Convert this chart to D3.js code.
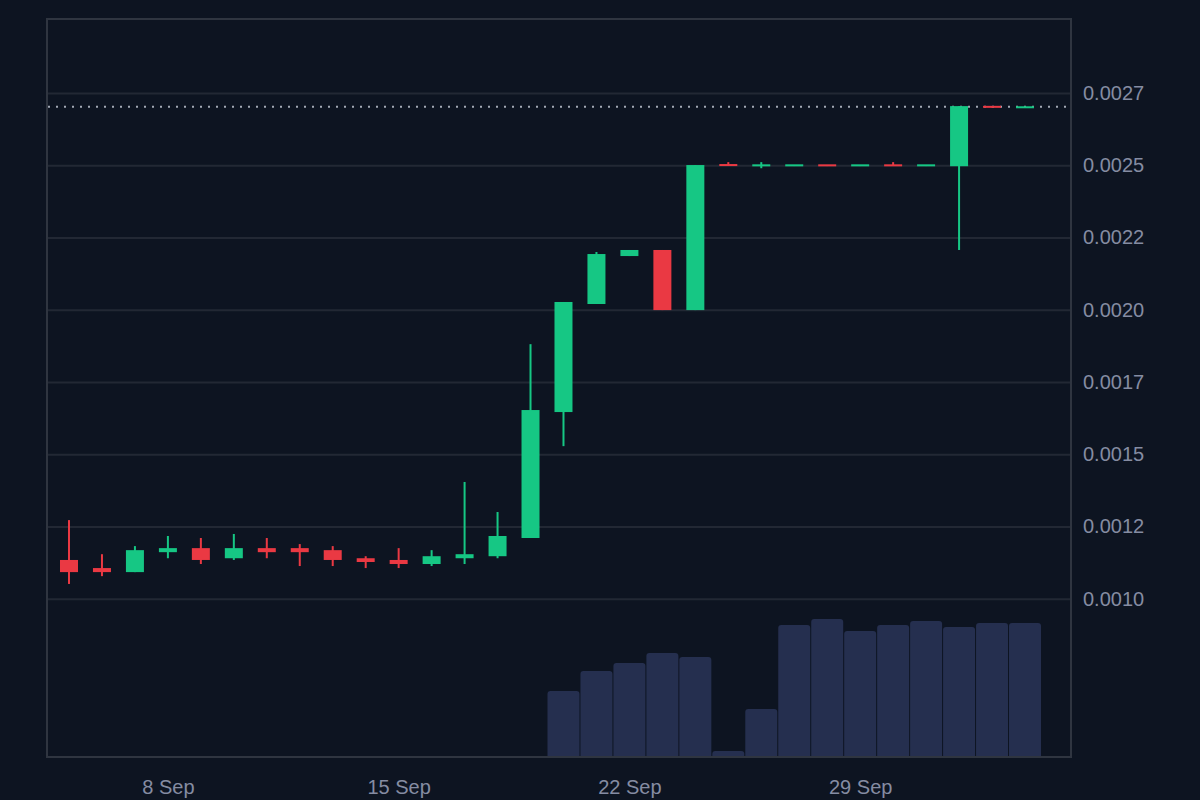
<!DOCTYPE html>
<html>
<head>
<meta charset="utf-8">
<script src="https://cdn.jsdelivr.net/npm/d3@7"></script>
<style>
  html, body { margin: 0; padding: 0; background: #0d1421; }
  svg { display: block; }
</style>
</head>
<body>
<svg id="chart" width="1200" height="800"></svg>
<script>
'use strict';

// daily candles, 5 Sep - 4 Oct
var dates = [
  '2024-09-05', '2024-09-06', '2024-09-07', '2024-09-08', '2024-09-09', '2024-09-10',
  '2024-09-11', '2024-09-12', '2024-09-13', '2024-09-14', '2024-09-15', '2024-09-16',
  '2024-09-17', '2024-09-18', '2024-09-19', '2024-09-20', '2024-09-21', '2024-09-22',
  '2024-09-23', '2024-09-24', '2024-09-25', '2024-09-26', '2024-09-27', '2024-09-28',
  '2024-09-29', '2024-09-30', '2024-10-01', '2024-10-02', '2024-10-03', '2024-10-04'
];

var open = [
  0.001134, 0.001106, 0.001092, 0.001161, 0.001175, 0.001140, 0.001175, 0.001175, 0.001168, 0.001140,
  0.001134, 0.001120, 0.001140, 0.001147, 0.001210, 0.001646, 0.002020, 0.002186, 0.002207, 0.001999,
  0.002504, 0.002499, 0.002499, 0.002501, 0.002499, 0.002501, 0.002499, 0.002497, 0.002705, 0.002699
];
var high = [
  0.001272, 0.001154, 0.001182, 0.001217, 0.001210, 0.001224, 0.001210, 0.001189, 0.001182, 0.001147,
  0.001175, 0.001168, 0.001404, 0.001300, 0.001881, 0.002027, 0.002200, 0.002207, 0.002207, 0.002501,
  0.002511, 0.002511, 0.002501, 0.002501, 0.002501, 0.002511, 0.002501, 0.002705, 0.002705, 0.002703
];
var low = [
  0.001051, 0.001078, 0.001092, 0.001140, 0.001120, 0.001134, 0.001140, 0.001113, 0.001113, 0.001106,
  0.001106, 0.001113, 0.001120, 0.001140, 0.001210, 0.001528, 0.002020, 0.002186, 0.001999, 0.001999,
  0.002498, 0.002490, 0.002499, 0.002499, 0.002499, 0.002499, 0.002499, 0.002207, 0.002700, 0.002699
];
var close = [
  0.001092, 0.001092, 0.001168, 0.001175, 0.001134, 0.001175, 0.001161, 0.001161, 0.001134, 0.001127,
  0.001120, 0.001147, 0.001154, 0.001217, 0.001653, 0.002027, 0.002193, 0.002207, 0.001999, 0.002501,
  0.002498, 0.002501, 0.002501, 0.002499, 0.002501, 0.002499, 0.002501, 0.002705, 0.002700, 0.002703
];

// volume in USD (nothing traded before 20 Sep)
var volume = [
  0, 0, 0, 0, 0, 0, 0, 0, 0, 0,
  0, 0, 0, 0, 0, 33000, 43000, 47000, 52000, 50000,
  3000, 24000, 66000, 69000, 63000, 66000, 68000, 65000, 67000, 67000
];

var priceTicks = [0.001, 0.00125, 0.0015, 0.00175, 0.002, 0.00225, 0.0025, 0.00275];
var priceLabels = ['0.0010', '0.0012', '0.0015', '0.0017', '0.0020', '0.0022', '0.0025', '0.0027'];
var dateTicks = ['2024-09-08', '2024-09-15', '2024-09-22', '2024-09-29'];

var UP = '#16c784', DOWN = '#ea3943';
var TEXT = '#858ca2', GRID = '#222834', FRAME = '#2f3540';
var FONT = '"Liberation Sans", Arial, Helvetica, sans-serif';

var plotLeft = 47, plotRight = 1071, plotTop = 19, plotBottom = 757;

var parse = d3.utcParse('%Y-%m-%d');
var candles = dates.map(function (d, i) {
  return { date: parse(d), o: open[i], h: high[i], l: low[i], c: close[i], v: volume[i] };
});

var x = d3.scaleUtc()
  .domain([parse(dates[0]), parse(dates[dates.length - 1])])
  .range([69, 1025]);

var y = d3.scaleLinear().domain([0.000452, 0.00301]).range([plotBottom, plotTop - 1]);

var vol = d3.scaleLinear().domain([0, d3.max(volume)]).range([0, 138]);

var svg = d3.select('#chart');

svg.append('rect').attr('width', 1200).attr('height', 800).attr('fill', '#0d1421');

// gridlines + price labels on the right
var yAxis = svg.append('g')
  .attr('transform', 'translate(' + plotRight + ',0)')
  .call(d3.axisRight(y)
    .tickValues(priceTicks)
    .tickFormat(function (d, i) { return priceLabels[i]; })
    .tickSizeInner(-(plotRight - plotLeft))
    .tickSizeOuter(0)
    .tickPadding(12));
yAxis.select('.domain').remove();
yAxis.selectAll('line').attr('stroke', GRID).attr('stroke-width', 2);
yAxis.selectAll('text').attr('fill', TEXT).attr('font-family', FONT).attr('font-size', 20);

// date labels
var xAxis = svg.append('g')
  .attr('transform', 'translate(0,' + plotBottom + ')')
  .call(d3.axisBottom(x)
    .tickValues(dateTicks.map(parse))
    .tickFormat(d3.utcFormat('%-d %b'))
    .tickSize(0)
    .tickPadding(23));
xAxis.select('.domain').remove();
xAxis.selectAll('text').attr('fill', TEXT).attr('font-family', FONT).attr('font-size', 20);

// volume bars with rounded tops
var barW = 32, r = 3;
svg.append('g').selectAll('path')
  .data(candles.filter(function (d) { return d.v > 0; }))
  .enter().append('path')
  .attr('fill', '#252f4f')
  .attr('d', function (d) {
    var x0 = x(d.date) - barW / 2, x1 = x0 + barW;
    var h = vol(d.v), y0 = plotBottom - h;
    var rr = Math.min(r, h);
    return 'M' + x0 + ',' + plotBottom +
      'V' + (y0 + rr) +
      'Q' + x0 + ',' + y0 + ' ' + (x0 + rr) + ',' + y0 +
      'H' + (x1 - rr) +
      'Q' + x1 + ',' + y0 + ' ' + x1 + ',' + (y0 + rr) +
      'V' + plotBottom + 'Z';
  });

// last price dotted line
var last = close[close.length - 1];
svg.append('line')
  .attr('x1', plotLeft + 1).attr('x2', plotRight)
  .attr('y1', y(last)).attr('y2', y(last))
  .attr('stroke', '#a3a9b5')
  .attr('stroke-width', 2)
  .attr('stroke-dasharray', '2 6');

// candles
var g = svg.append('g').selectAll('g')
  .data(candles)
  .enter().append('g')
  .attr('fill', function (d) { return d.c >= d.o ? UP : DOWN; });

g.append('rect')
  .attr('x', function (d) { return x(d.date) - 1; })
  .attr('width', 2)
  .attr('y', function (d) { return y(d.h); })
  .attr('height', function (d) { return Math.max(1, y(d.l) - y(d.h)); });

g.append('rect')
  .attr('x', function (d) { return x(d.date) - 9; })
  .attr('width', 18)
  .attr('y', function (d) {
    var t = y(Math.max(d.o, d.c)), b = y(Math.min(d.o, d.c));
    return b - t < 2 ? (t + b) / 2 - 1 : t;
  })
  .attr('height', function (d) {
    return Math.max(2, y(Math.min(d.o, d.c)) - y(Math.max(d.o, d.c)));
  });

// frame
svg.append('rect')
  .attr('x', plotLeft).attr('y', plotTop)
  .attr('width', plotRight - plotLeft).attr('height', plotBottom - plotTop)
  .attr('fill', 'none')
  .attr('stroke', FRAME)
  .attr('stroke-width', 2);
</script>
</body>
</html>
